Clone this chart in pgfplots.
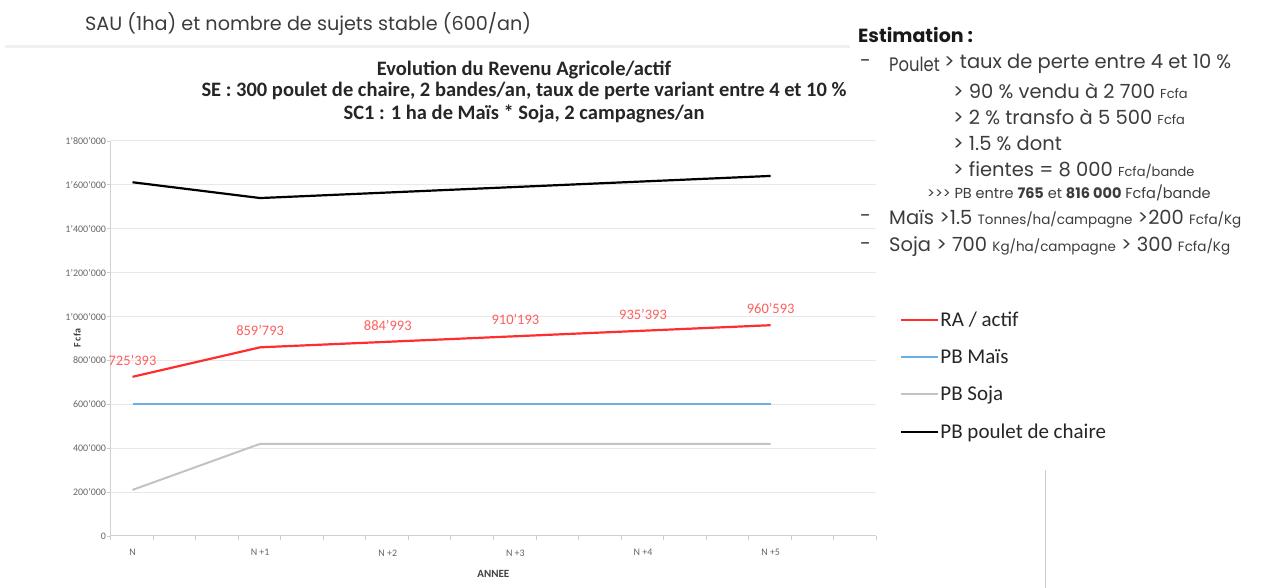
\documentclass[border=0pt]{standalone}
\usepackage{fontspec}
\setmainfont{Carlito}
\newfontfamily\gothic{Poppins}
\usepackage{pgfplots}
\pgfplotsset{compat=1.18}
\usepackage{pgfplotstable}
\definecolor{rline}{RGB}{255,45,45}
\definecolor{rlab}{RGB}{255,95,95}
\definecolor{bline}{RGB}{105,175,225}
\definecolor{gline}{RGB}{195,195,195}
\definecolor{gridc}{RGB}{232,232,232}
\definecolor{txt}{RGB}{60,60,60}
\pgfplotstableread{
x y lab
0 725393 725'393
1 859793 859'793
2 884993 884'993
3 910193 910'193
4 935393 935'393
5 960593 960'593
}\ratable
\pgfplotstableread{
x y
0 600000
1 600000
2 600000
3 600000
4 600000
5 600000
}\maistable
\pgfplotstableread{
x y
0 210000
1 420000
2 420000
3 420000
4 420000
5 420000
}\sojatable
\pgfplotstableread{
x y
0 1612000
1 1540000
2 1565200
3 1590400
4 1615600
5 1640800
}\pouletable
\begin{document}
\begin{tikzpicture}[x=1pt,y=1pt]
\useasboundingbox (0,0) rectangle (1284,588);
\fill[white] (0,0) rectangle (1284,588);
% heading
\node[anchor=west, font=\gothic\fontsize{19.2}{21}\selectfont, text=txt, inner sep=0pt] at (85,564) {SAU (1ha) et nombre de sujets stable (600/an)};
\draw[line width=3pt, black!6] (5,541) -- (850,541);
% titles
\node[font=\bfseries\fontsize{20.5}{22}\selectfont, text=black!85, inner sep=0pt] at (524,518) {Evolution du Revenu Agricole/actif};
\node[font=\bfseries\fontsize{20.5}{22}\selectfont, text=black!85, inner sep=0pt] at (524,497) {SE : 300 poulet de chaire, 2 bandes/an, taux de perte variant entre 4 et 10 \%};
\node[font=\bfseries\fontsize{20.5}{22}\selectfont, text=black!85, inner sep=0pt] at (524,474) {SC1 : 1 ha de Maïs * Soja, 2 campagnes/an};
\begin{axis}[
  at={(110.5pt,52pt)}, anchor=south west, scale only axis,
  width=765.8pt, height=395pt,
  xmin=-0.1724, xmax=5.8276, ymin=0, ymax=1800000,
  scaled y ticks=false,
  axis x line*=bottom, axis y line*=left,
  axis line style={-, draw=black!18, line width=1pt},
  ytick={0,200000,400000,600000,800000,1000000,1200000,1400000,1600000,1800000},
  yticklabels={0,200'000,400'000,600'000,800'000,1'000'000,1'200'000,1'400'000,1'600'000,1'800'000},
  ymajorgrids, grid style={gridc, line width=1pt},
  tick align=outside, major tick length=4pt, minor tick length=4pt,
  tick style={black!20, line width=0.8pt},
  major x tick style={draw=none},
  xtick={0,1,2,3,4,5},
  xticklabels={N,N +1,N +2,N +3,N +4,N +5},
  minor xtick={-0.1724,0.16093,...,5.84},
  y tick label style={font=\fontsize{10}{11}\selectfont, text=black!60, xshift=3pt},
  x tick label style={font=\fontsize{10}{11}\selectfont, text=black!60, yshift=-6pt},
  xlabel={ANNEE}, ylabel={F cfa},
  xlabel style={font=\bfseries\fontsize{11}{12}\selectfont, text=black!75, yshift=-7pt},
  ylabel style={font=\bfseries\fontsize{10}{11}\selectfont, text=black!75, yshift=-22pt},
  clip=false,
  legend cell align=left,
  legend style={draw=none, fill=none, at={(rel axis cs:1.031,0.57)}, anchor=north west,
    inner sep=0pt, row sep=19.5pt, font=\fontsize{21}{22}\selectfont, text=black!85,
    nodes={inner sep=1pt}},
  legend image code/.code={\draw[#1] (0pt,0pt) -- (37pt,0pt);},
]
\addplot[rline, line width=2.2pt,
  point meta=explicit symbolic,
  nodes near coords, every node near coord/.style={font=\fontsize{14.5}{16}\selectfont, text=rlab, anchor=south, yshift=7pt}]
  table[x=x, y=y, meta=lab] {\ratable};
\addlegendentry{RA / actif}
\addplot[bline, line width=2.2pt] table[x=x, y=y] {\maistable};
\addlegendentry{PB Maïs}
\addplot[gline, line width=2pt] table[x=x, y=y] {\sojatable};
\addlegendentry{PB Soja}
\addplot[black, line width=2.2pt] table[x=x, y=y] {\pouletable};
\addlegendentry{PB poulet de chaire}
\end{axis}
\draw[black!20, line width=1pt] (1045,0) -- (1045,118);
% estimation block
\begin{scope}[every node/.style={anchor=west, inner sep=0pt, text=txt, font=\gothic\fontsize{19.5}{21}\selectfont}]
\node[font=\gothic\bfseries\fontsize{19}{21}\selectfont, text=black!90] at (858,553) {Estimation :};
\node at (860,524) {-};
\node at (889,524) {\scalebox{0.84}[1]{Poulet}};
\node at (944,524) {> taux de perte entre 4 et 10 \%};
\node at (953,497) {> 90 \% vendu à 2 700 {\fontsize{13}{14}\selectfont Fcfa}};
\node at (953,471) {> 2 \% transfo à 5 500 {\fontsize{13}{14}\selectfont Fcfa}};
\node at (953,445) {> 1.5 \% dont};
\node at (953,418) {> fientes = 8 000 {\fontsize{13}{14}\selectfont Fcfa/bande}};
\node[font=\gothic\fontsize{14.5}{16}\selectfont] at (927,395) {>>> PB entre \textbf{765} et \textbf{816 000} Fcfa/bande};
\node at (860,369) {-};
\node at (889,369) {Maïs >1.5 {\fontsize{13.5}{15}\selectfont Tonnes/ha/campagne} >200 {\fontsize{13.5}{15}\selectfont Fcfa/Kg}};
\node at (860,341) {-};
\node at (889,341) {Soja > 700 {\fontsize{13.5}{15}\selectfont Kg/ha/campagne} > 300 {\fontsize{13.5}{15}\selectfont Fcfa/Kg}};
\end{scope}
\end{tikzpicture}
\end{document}
